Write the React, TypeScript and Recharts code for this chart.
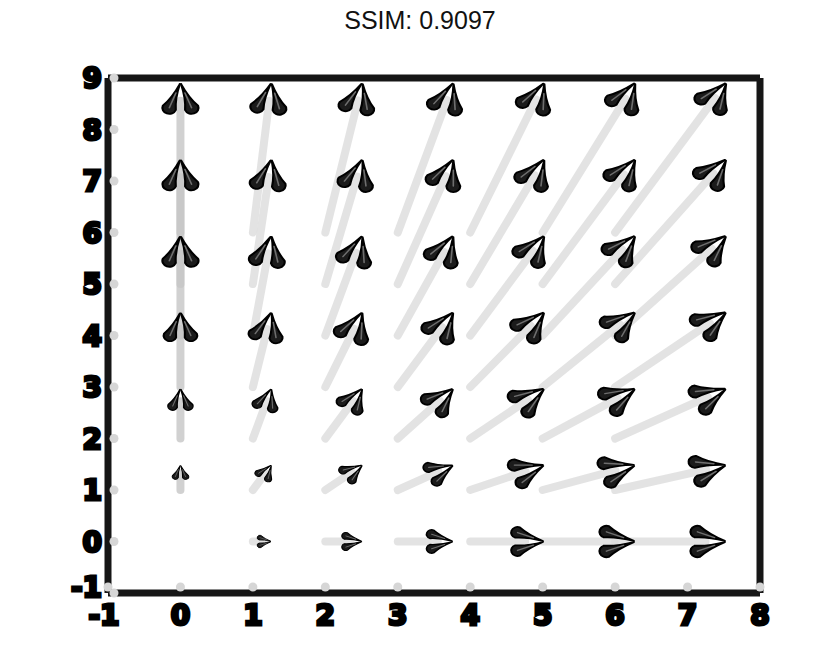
import React from "react";
import { ScatterChart, Scatter, XAxis, YAxis } from "recharts";

const titleText = "SSIM: 0.9097";
const xTicks = [-1, 0, 1, 2, 3, 4, 5, 6, 7, 8];
const yTicks = [-1, 0, 1, 2, 3, 4, 5, 6, 7, 8, 9];

// quiver grid and the vector components
const gridX = [0, 1, 2, 3, 4, 5, 6];
const gridY = [0, 1, 2, 3, 4, 5, 6];
const uByColumn = [0, 1, 2, 3, 4, 5, 6];
const vByRow = [0, 1, 2, 3, 4, 5, 6];

// arrow length per unit of u / v, in data units
const QUIVER_SX = 0.256;
const QUIVER_SY = 0.485;

const W = 840;
const H = 664;
const PLOT_L = 108;
const PLOT_R = 760;
const PLOT_T = 78;
const PLOT_B = 593;
const PX_X = (PLOT_R - PLOT_L) / 9;
const PX_Y = (PLOT_B - PLOT_T) / 10;
const STRETCH = 1.15;
const BARB_ANGLE = 21;
const BARB_LEN = 33;
const BARB_R = 6;

interface IArrow {
  x: number
  y: number
  u: number
  v: number
}

const arrows: IArrow[] = [];
gridY.forEach((y, j) => {
  gridX.forEach((x, i) => {
    const u = uByColumn[i];
    const v = vByRow[j];
    if (u === 0 && v === 0) return;
    arrows.push({ x, y, u, v });
  });
});

// pixel direction, head size and where the shaft stops under the head
const geometry = (a: IArrow) => {
  const dx = a.u * QUIVER_SX * PX_X;
  const dy = -a.v * QUIVER_SY * PX_Y;
  const len = Math.hypot(dx, dy);
  const rad = Math.atan2(dy, dx / STRETCH);
  const k = Math.min(1, 0.22 + len / 105);
  const hl = k * BARB_LEN * 0.55;
  const hlPx = hl * Math.hypot(STRETCH * Math.cos(rad), Math.sin(rad));
  const keep = Math.max(0, 1 - hlPx / len);
  return { ang: (rad * 180) / Math.PI, k, keep };
};

const tips = arrows.map((a) => ({
  x: a.x + a.u * QUIVER_SX,
  y: a.y + a.v * QUIVER_SY,
  u: a.u,
  v: a.v,
}));

const L = BARB_LEN;
const R = BARB_R;
const barbPath =
  `M 1.5 0 Q ${L * 0.5} ${-R * 0.2} ${L - R} ${-R} ` +
  `A ${R} ${R} 0 0 1 ${L - R} ${R} Q ${L * 0.5} ${R * 0.2} 1.5 0 Z`;

const Head = (props: any) => {
  const { cx, cy, payload } = props;
  const { ang, k } = geometry(payload);
  return (
    <g transform={`translate(${cx},${cy}) scale(${STRETCH},1) rotate(${ang}) scale(${k})`}>
      {[-BARB_ANGLE, BARB_ANGLE].map((a) => (
        <g key={a} transform={`rotate(${180 + a})`}>
          <path d={barbPath} fill="#1b1b1b" stroke="#000" strokeWidth={1.9} strokeLinejoin="round" />
          <path d={`M 11 0 L ${L - 6} 0`} stroke="#6e6e6e" strokeWidth={1.4} strokeLinecap="round" />
        </g>
      ))}
    </g>
  );
};

const Empty = () => <g />;

const labelStyle = {
  fontFamily: "DejaVu Sans",
  fontWeight: 700,
  fontSize: 28,
  fill: "#000",
  stroke: "#000",
  strokeWidth: 3,
};

const dotFill = "#d6d6d6";

const BottomTick = (props: any) => {
  const { x, payload } = props;
  return (
    <g>
      <circle cx={x} cy={PLOT_B - 6} r={4.5} fill={dotFill} />
      <text x={payload.value === -1 ? x - 4 : x} y={PLOT_B + 32} textAnchor="middle" {...labelStyle}>
        {payload.value}
      </text>
    </g>
  );
};

const LeftTick = (props: any) => {
  const { y, payload } = props;
  return (
    <g>
      <circle cx={PLOT_L + 6} cy={y} r={4.5} fill={dotFill} />
      <text x={102} y={payload.value === -1 ? y - 6 : y} dy="0.36em" textAnchor="end" {...labelStyle}>
        {payload.value}
      </text>
    </g>
  );
};

const TopTick = (props: any) => <circle cx={props.x} cy={PLOT_T + 5} r={4.5} fill={dotFill} />;
const RightTick = (props: any) => <circle cx={PLOT_R - 4} cy={props.y} r={4.5} fill={dotFill} />;

const frame = { stroke: "#161616", strokeWidth: 7 };

const QuiverChart: React.FC = () => {
  return (
    <div style={{ position: "absolute", left: 0, top: 0, width: W, height: H, background: "#fff" }}>
      <ScatterChart width={W} height={H} margin={{ top: 68, right: 70, bottom: 31, left: 68 }}>
        <XAxis
          dataKey="x"
          type="number"
          domain={[-1, 8]}
          ticks={xTicks}
          interval={0}
          height={40}
          tickLine={false}
          axisLine={frame}
          tick={BottomTick}
        />
        <XAxis
          xAxisId="top"
          orientation="top"
          type="number"
          domain={[-1, 8]}
          ticks={xTicks}
          interval={0}
          height={10}
          tickLine={false}
          axisLine={frame}
          tick={TopTick}
        />
        <YAxis
          dataKey="y"
          type="number"
          domain={[-1, 9]}
          ticks={yTicks}
          interval={0}
          width={40}
          tickLine={false}
          axisLine={frame}
          tick={LeftTick}
        />
        <YAxis
          yAxisId="right"
          orientation="right"
          type="number"
          domain={[-1, 9]}
          ticks={yTicks}
          interval={0}
          width={10}
          tickLine={false}
          axisLine={frame}
          tick={RightTick}
        />
        {arrows.map((a, idx) => {
          const { keep } = geometry(a);
          return (
            <Scatter
              key={`shaft-${idx}`}
              data={[
                { x: a.x, y: a.y },
                { x: a.x + (tips[idx].x - a.x) * keep, y: a.y + (tips[idx].y - a.y) * keep },
              ]}
              line={{
                stroke: a.u === 0 ? "#c6c6c6" : "#dcdcdc",
                strokeWidth: 8,
                strokeLinecap: "round",
                strokeOpacity: 0.8,
              }}
              shape={Empty}
              isAnimationActive={false}
            />
          );
        })}
        <Scatter data={tips} shape={Head} isAnimationActive={false} />
      </ScatterChart>
      <div
        style={{
          position: "absolute",
          top: 8,
          left: 0,
          width: W,
          textAlign: "center",
          fontFamily: "Liberation Sans",
          fontSize: 25,
          lineHeight: "24px",
          color: "#111",
        }}
      >
        {titleText}
      </div>
    </div>
  );
};

export default function App() {
  return <QuiverChart />;
}
